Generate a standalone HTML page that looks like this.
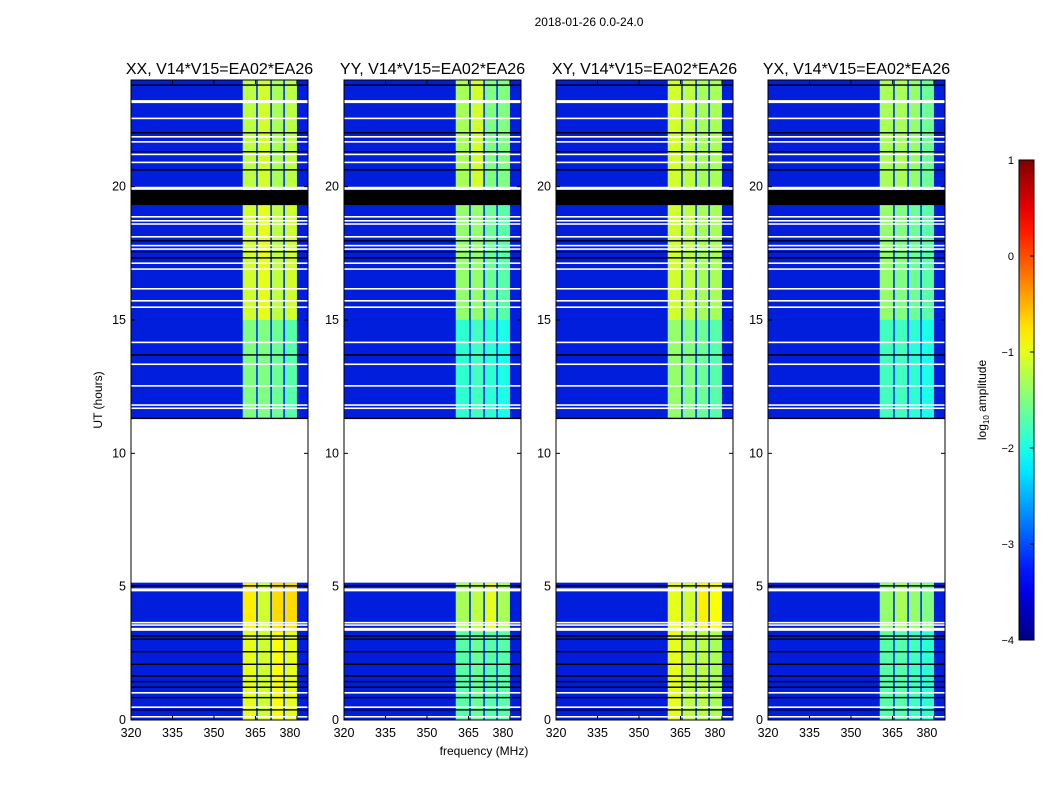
<!DOCTYPE html>
<html><head><meta charset="utf-8">
<style>
html,body{margin:0;padding:0;background:#fff;}
svg{display:block;font-family:"Liberation Sans","DejaVu Sans",sans-serif;}
</style></head>
<body>
<svg id="chart" width="1050" height="800" viewBox="0 0 1050 800">
<text x="589" y="26" font-size="12" text-anchor="middle">2018-01-26 0.0-24.0</text>
<text transform="translate(102,400) rotate(-90)" font-size="12" text-anchor="middle">UT (hours)</text>
<text x="484" y="755" font-size="12" text-anchor="middle">frequency (MHz)</text>
<text transform="translate(986,400) rotate(-90)" font-size="12" text-anchor="middle">log<tspan font-size="8" dy="3">10</tspan><tspan dy="-3"> amplitude</tspan></text>
</svg>
<script>
const panelTitles = ["XX, V14*V15=EA02*EA26","YY, V14*V15=EA02*EA26","XY, V14*V15=EA02*EA26","YX, V14*V15=EA02*EA26"];
const panelLefts = [131,344,556,768];
const xTicks = [320,335,350,365,380];
const yTicks = [0,5,10,15,20];
const cbTicks = [1,0,-1,-2,-3,-4];
const bandEdges = [[360.4,365.3],[365.8,370.4],[370.9,375.1],[375.6,380.0]];
const segments = [[0,3.3],[3.3,5.15],[11.31,15],[15,19.31],[19.87,24]];
const levelsXX = [[-1.0,-1.1,-0.9,-1.0],[-0.8,-1.1,-0.7,-0.7],[-1.5,-1.5,-1.6,-1.7],[-1.1,-1.0,-1.2,-1.1],[-1.2,-1.1,-1.3,-1.2]];
const levelsYY = [[-1.7,-1.6,-1.7,-1.7],[-1.3,-1.2,-1.0,-1.3],[-1.9,-1.8,-1.9,-2.0],[-1.4,-1.4,-1.6,-1.7],[-1.3,-1.1,-1.5,-1.5]];
const levelsXY = [[-1.0,-1.2,-1.2,-1.3],[-1.0,-1.1,-0.8,-0.9],[-1.4,-1.5,-1.6,-1.7],[-1.1,-1.2,-1.3,-1.3],[-1.1,-1.2,-1.3,-1.3]];
const levelsYX = [[-1.7,-1.7,-1.8,-1.9],[-1.4,-1.3,-1.4,-1.5],[-1.8,-1.8,-1.9,-2.0],[-1.4,-1.5,-1.6,-1.7],[-1.3,-1.3,-1.4,-1.6]];
const panelLevels = [levelsXX,levelsYY,levelsXY,levelsYX];
const backgroundLevel = -3.2;
const gapLevel = -3.1;
const blankRange = [5.15,11.31];
const flagRange = [19.31,19.87];
const whiteLines = [23.19,22.56,21.87,21.68,21.21,20.91,19.94,18.87,18.72,18.6,18.12,17.79,17.66,17.13,16.91,16.17,15.72,15.48,14.16,13.34,12.53,11.81,11.69,4.88,3.65,3.56,3.40,1.02,0.48,0.12];
const thickWhite = [23.19,19.94,4.88,3.40];
const blackLines = [23.81,22.02,21.31,20.63,17.97,17.56,17.33,13.69,11.31,5.03,3.15,3.03,2.56,2.09,1.65,1.44,1.23,0.84,0.38];

const NS="http://www.w3.org/2000/svg";
const svg=document.getElementById('chart');
const PW=177, TOP=80, BOT=720, FMIN=320, FMAX=384, TMAX=24;
function jet(v){const x=Math.max(0,Math.min(1,(v+4)/5));const c=t=>Math.round(255*Math.max(0,Math.min(1,1.5-Math.abs(t))));return `rgb(${c(4*x-3)},${c(4*x-2)},${c(4*x-1)})`;}
function mk(tag,attrs,parent){const e=document.createElementNS(NS,tag);for(const k in attrs)e.setAttribute(k,attrs[k]);(parent||svg).appendChild(e);return e;}
const yScale=t=>BOT-(t/TMAX)*(BOT-TOP);

panelLefts.forEach((L,p)=>{
  const xs=f=>L+(f-FMIN)/(FMAX-FMIN)*PW;
  const g=mk('g',{});
  
  
  const t=mk('text',{x:L+PW/2,y:74,'font-size':16,'text-anchor':'middle'},g);t.textContent=panelTitles[p];
  
  
  const bg=mk('rect',{x:L,y:TOP,width:PW,height:BOT-TOP,fill:jet(backgroundLevel)},g);
  
  
  const sh=mk('rect',{x:L,y:TOP,width:PW,height:BOT-TOP,fill:'#000','fill-opacity':0.14},g);
  
  
  segments.forEach((s,si)=>{
    bandEdges.forEach((b,bi)=>{
      const r=mk('rect',{x:xs(b[0]),y:yScale(s[1]),width:xs(b[1])-xs(b[0]),height:yScale(s[0])-yScale(s[1]),fill:jet(panelLevels[p][si][bi])},g);
      
      
    });
    for(let bi=0;bi<bandEdges.length-1;bi++){
      const r=mk('rect',{x:xs(bandEdges[bi][1]),y:yScale(s[1]),width:xs(bandEdges[bi+1][0])-xs(bandEdges[bi][1]),height:yScale(s[0])-yScale(s[1]),fill:jet(gapLevel)},g);
      
      
    }
  });
  const bl=mk('rect',{x:L,y:yScale(blankRange[1]),width:PW,height:yScale(blankRange[0])-yScale(blankRange[1]),fill:'#fff'},g);
  
  
  const fl=mk('rect',{x:L,y:yScale(flagRange[1]),width:PW,height:yScale(flagRange[0])-yScale(flagRange[1]),fill:'#000'},g);
  
  
  blackLines.forEach(v=>{const r=mk('rect',{x:L,y:yScale(v)-0.7,width:PW,height:1.4,fill:'#000'},g);
    
    });
  whiteLines.forEach(v=>{const h=thickWhite.includes(v)?3:1.6;const r=mk('rect',{x:L,y:yScale(v)-h/2,width:PW,height:h,fill:'#fff'},g);
    
    });
  const fr=mk('rect',{x:L,y:TOP,width:PW,height:BOT-TOP,fill:'none',stroke:'#000','stroke-width':1},g);
  
  
  xTicks.forEach(f=>{const x=xs(f);
    mk('line',{x1:x,x2:x,y1:BOT,y2:BOT-4,stroke:'#000'},g);mk('line',{x1:x,x2:x,y1:TOP,y2:TOP+4,stroke:'#000'},g);
    const tx=mk('text',{x:f===380?x-7:x,y:BOT+17,'font-size':12.5,'text-anchor':'middle'},g);tx.textContent=f;
    
    });
  yTicks.forEach(v=>{const y=yScale(v);
    mk('line',{x1:L,x2:L+4,y1:y,y2:y,stroke:'#000'},g);mk('line',{x1:L+PW,x2:L+PW-4,y1:y,y2:y,stroke:'#000'},g);
    const ty=mk('text',{x:L-5,y:y+4,'font-size':12.5,'text-anchor':'end'},g);ty.textContent=v;
    
    });
});

// colorbar
const defs=mk('defs',{});
const grad=mk('linearGradient',{id:'jetg',x1:0,y1:1,x2:0,y2:0},defs);
for(let i=0;i<=20;i++){mk('stop',{offset:i/20,'stop-color':jet(-4+5*i/20)},grad);}
const CB={x:1019,y:160,w:15,h:480};
const cb=mk('rect',{x:CB.x,y:CB.y,width:CB.w,height:CB.h,fill:'url(#jetg)',stroke:'#000','stroke-width':1});


cbTicks.forEach(v=>{const y=CB.y+(1-v)/5*CB.h;
  mk('line',{x1:CB.x+CB.w,x2:CB.x+CB.w-4,y1:y,y2:y,stroke:'#000'});
  const t=mk('text',{x:CB.x-5,y:y+4,'font-size':11,'text-anchor':'end'});t.textContent=(v<0?'\u2212':'')+Math.abs(v);
  
  });
</script>
</body></html>
